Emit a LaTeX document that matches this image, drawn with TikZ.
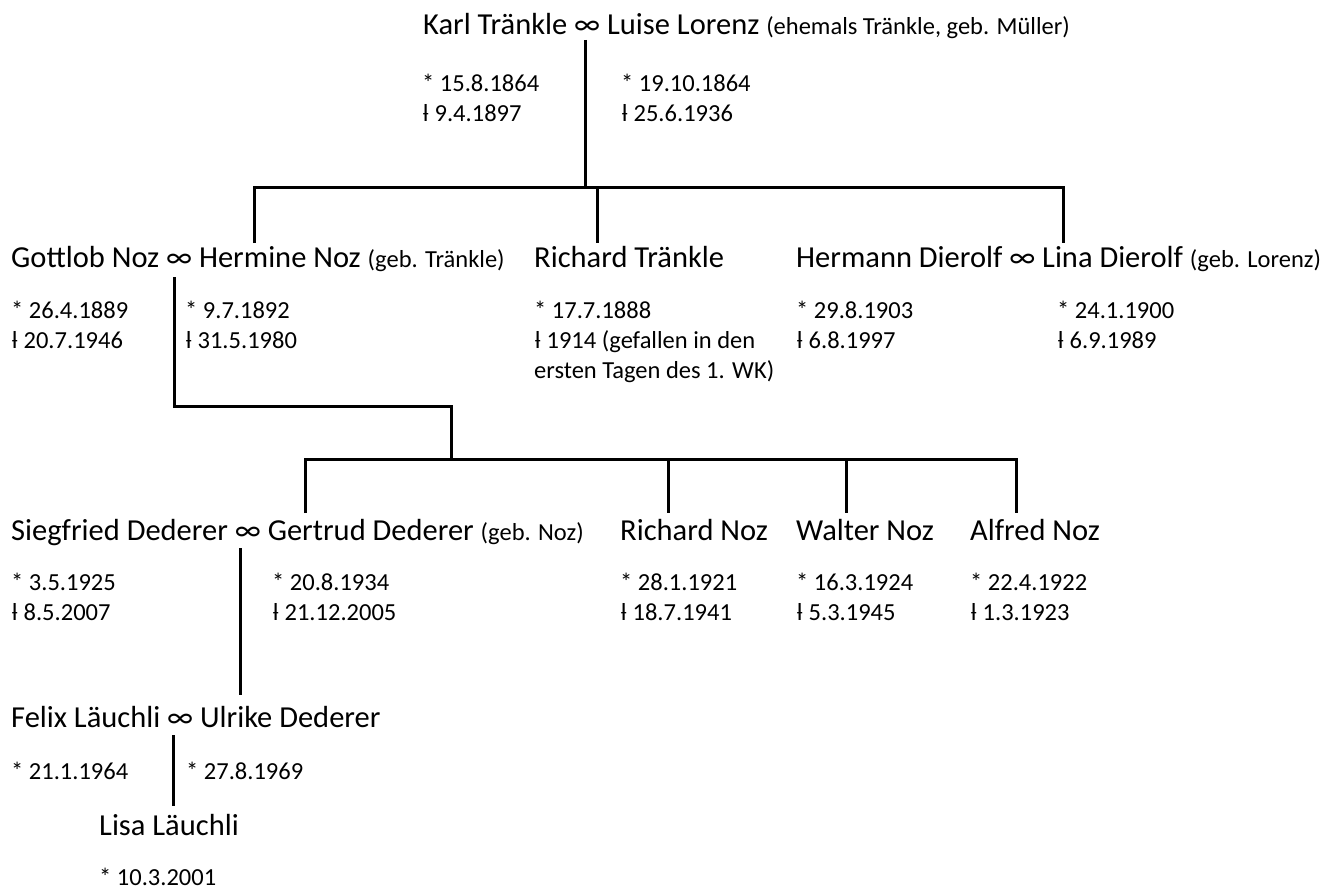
\documentclass[tikz,border=0pt]{standalone}
\usepackage{fontspec}
\setmainfont{Carlito}
\begin{document}
\begin{tikzpicture}[x=1pt,y=-1pt,
  txt/.style={inner sep=0pt,anchor=base west},
  pname/.style={txt,font=\fontsize{30.5}{36}\selectfont},
  pdate/.style={txt,font=\fontsize{24.5}{30}\selectfont},
  link/.style={draw=black,line width=3pt,line join=miter,line cap=butt}]
\useasboundingbox (0,0) rectangle (1322,891);
\newcommand{\gebtext}[1]{{\fontsize{24.5}{30}\selectfont #1}}
% ---- generation 1
\node[pname] (karl) at (423,35) {Karl Tränkle ∞ Luise Lorenz \gebtext{(ehemals Tränkle, geb. Müller)}};
\node[pdate] (karlb) at (422,91) {* 15.8.1864};
\node[pdate] (karld) at (422,121) {ƚ 9.4.1897};
\node[pdate] (luiseb) at (621,91) {* 19.10.1864};
\node[pdate] (luised) at (621,121) {ƚ 25.6.1936};
% ---- generation 2
\node[pname] (gottlob) at (11,267) {Gottlob Noz ∞ Hermine Noz \gebtext{(geb. Tränkle)}};
\node[pdate] (gottlobb) at (11,318) {* 26.4.1889};
\node[pdate] (gottlobd) at (11,348) {ƚ 20.7.1946};
\node[pdate] (hermineb) at (185,318) {* 9.7.1892};
\node[pdate] (hermined) at (185,348) {ƚ 31.5.1980};
\node[pname] (richardt) at (534,267) {Richard Tränkle};
\node[pdate] (richardtb) at (534,318) {* 17.7.1888};
\node[pdate] (richardtd) at (534,348) {ƚ 1914 (gefallen in den};
\node[pdate] (richardtd2) at (534,378) {ersten Tagen des 1. WK)};
\node[pname] (hermann) at (796,267) {Hermann Dierolf ∞ Lina Dierolf \gebtext{(geb. Lorenz)}};
\node[pdate] (hermannb) at (796,318) {* 29.8.1903};
\node[pdate] (hermannd) at (796,348) {ƚ 6.8.1997};
\node[pdate] (linab) at (1057,318) {* 24.1.1900};
\node[pdate] (linad) at (1057,348) {ƚ 6.9.1989};
% ---- generation 3
\node[pname] (siegfried) at (11,540) {Siegfried Dederer ∞ Gertrud Dederer \gebtext{(geb. Noz)}};
\node[pdate] (siegfriedb) at (11,590) {* 3.5.1925};
\node[pdate] (siegfriedd) at (11,620) {ƚ 8.5.2007};
\node[pdate] (gertrudb) at (272,590) {* 20.8.1934};
\node[pdate] (gertrudd) at (272,620) {ƚ 21.12.2005};
\node[pname] (richardn) at (620,540) {Richard Noz};
\node[pdate] (richardnb) at (620,590) {* 28.1.1921};
\node[pdate] (richardnd) at (620,620) {ƚ 18.7.1941};
\node[pname] (walter) at (796,540) {Walter Noz};
\node[pdate] (walterb) at (796,590) {* 16.3.1924};
\node[pdate] (walterd) at (796,620) {ƚ 5.3.1945};
\node[pname] (alfred) at (970,540) {Alfred Noz};
\node[pdate] (alfredb) at (970,590) {* 22.4.1922};
\node[pdate] (alfredd) at (970,620) {ƚ 1.3.1923};
% ---- generation 4
\node[pname] (felix) at (11,727) {Felix Läuchli ∞ Ulrike Dederer};
\node[pdate] (felixb) at (11,779) {* 21.1.1964};
\node[pdate] (ulrikeb) at (186,779) {* 27.8.1969};
% ---- generation 5
\node[pname] (lisa) at (99,835) {Lisa Läuchli};
\node[pdate] (lisab) at (99,885) {* 10.3.2001};
% ---- connector points
\coordinate (g1) at (585,40);
\coordinate (g1bar) at (585,187);
\coordinate (barL) at (254,187);
\coordinate (barM) at (597,187);
\coordinate (barR) at (1063,187);
\coordinate (toHermine) at (254,243);
\coordinate (toRichardT) at (597,243);
\coordinate (toLina) at (1063,243);
\coordinate (g2) at (174,277);
\coordinate (g2a) at (174,406);
\coordinate (g2b) at (451,406);
\coordinate (g2bar) at (451,459);
\coordinate (bar2L) at (305,459);
\coordinate (bar2a) at (668,459);
\coordinate (bar2b) at (846,459);
\coordinate (bar2R) at (1016,459);
\coordinate (toGertrud) at (305,513);
\coordinate (toRichardN) at (668,513);
\coordinate (toWalter) at (846,513);
\coordinate (toAlfred) at (1016,513);
\coordinate (g3) at (240,548);
\coordinate (toUlrike) at (240,695);
\coordinate (g4) at (173,735);
\coordinate (toLisa) at (173,806);
% ---- connectors
\draw[link] (g1) -- (g1bar);
\draw[link] (toHermine) -- (barL) -- (barR) -- (toLina);
\draw[link] (barM) -- (toRichardT);
\draw[link] (g2) -- (g2a) -- (g2b) -- (g2bar);
\draw[link] (toGertrud) -- (bar2L) -- (bar2R) -- (toAlfred);
\draw[link] (bar2a) -- (toRichardN);
\draw[link] (bar2b) -- (toWalter);
\draw[link] (g3) -- (toUlrike);
\draw[link] (g4) -- (toLisa);
\end{tikzpicture}
\end{document}
